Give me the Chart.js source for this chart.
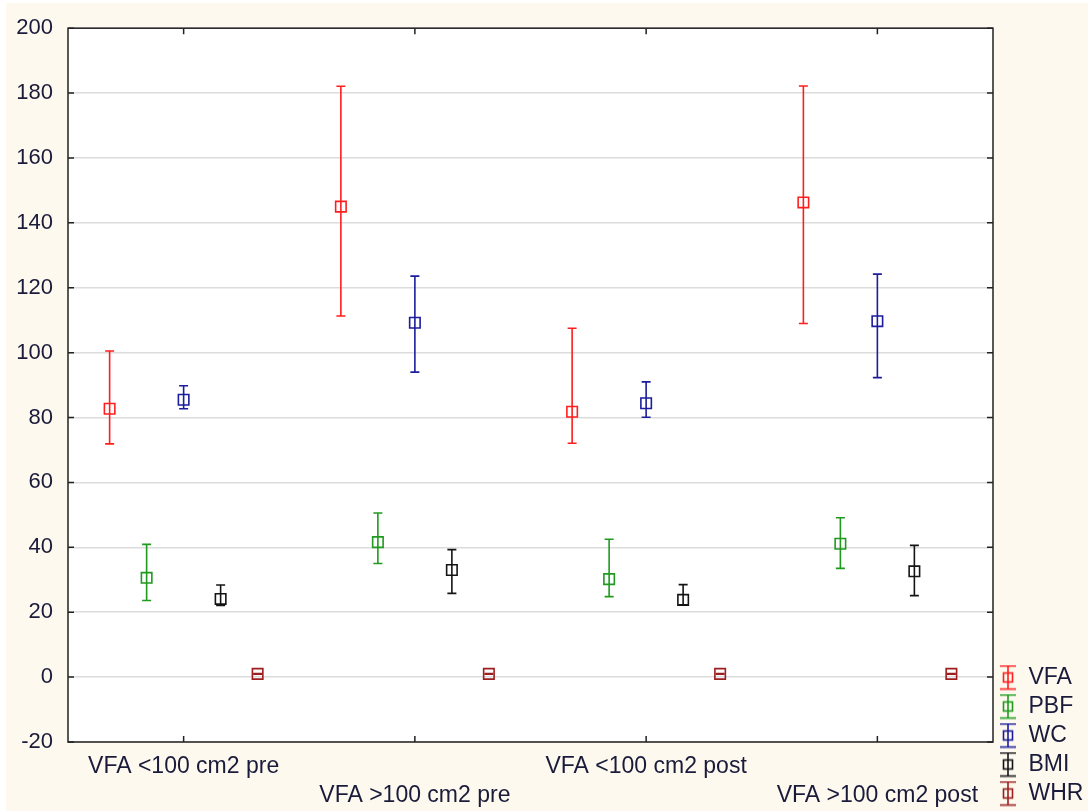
<!DOCTYPE html>
<html>
<head>
<meta charset="utf-8">
<script src="https://cdn.jsdelivr.net/npm/chart.js@4.4.1/dist/chart.umd.min.js"></script>
<style>
    body { margin: 0; background: #ffffff; }
    #wrap { width: 1088px; height: 811px; }
</style>
</head>
<body>
<div id="wrap"><canvas id="grafico"></canvas></div>
<script>
const categorias = ['VFA <100 cm2 pre', 'VFA >100 cm2 pre', 'VFA <100 cm2 post', 'VFA >100 cm2 post'];
const yTicks = [-20, 0, 20, 40, 60, 80, 100, 120, 140, 160, 180, 200];

const vfaMedia = [82.7, 145.0, 81.8, 146.3];
const vfaMin   = [71.9, 111.3, 72.1, 109.0];
const vfaMax   = [100.5, 182.1, 107.5, 182.2];

const pbfMedia = [30.6, 41.6, 30.2, 41.1];
const pbfMin   = [23.6, 35.0, 24.8, 33.5];
const pbfMax   = [40.9, 50.6, 42.5, 49.1];

const wcMedia = [85.5, 109.2, 84.4, 109.7];
const wcMin   = [82.7, 94.0, 80.1, 92.3];
const wcMax   = [89.8, 123.6, 91.0, 124.2];

const bmiMedia = [24.1, 33.0, 23.8, 32.6];
const bmiMin   = [22.1, 25.8, 22.3, 25.1];
const bmiMax   = [28.4, 39.3, 28.5, 40.6];

const whrMedia = [1.0, 1.0, 1.0, 1.0];
const whrMin   = [0.9, 0.9, 0.9, 0.9];
const whrMax   = [1.1, 1.1, 1.1, 1.1];

const series = [
    { nome: 'VFA', cor: '#ff1e1e', media: vfaMedia, min: vfaMin, max: vfaMax, desloc: -0.32 },
    { nome: 'PBF', cor: '#1f9a1f', media: pbfMedia, min: pbfMin, max: pbfMax, desloc: -0.16 },
    { nome: 'WC',  cor: '#1c1c9c', media: wcMedia,  min: wcMin,  max: wcMax,  desloc: 0 },
    { nome: 'BMI', cor: '#141414', media: bmiMedia, min: bmiMin, max: bmiMax, desloc: 0.16 },
    { nome: 'WHR', cor: '#9c1e1e', media: whrMedia, min: whrMin, max: whrMax, desloc: 0.32 }
];

const fonte = "'Liberation Sans', Arial, sans-serif";
const corTexto = '#1a1a3a';

function iconeLegenda(cor) {
    const c = document.createElement('canvas');
    c.width = 18;
    c.height = 26;
    const ctx = c.getContext('2d');
    ctx.strokeStyle = cor;
    ctx.lineWidth = 1.6;
    ctx.beginPath();
    ctx.moveTo(9, 1); ctx.lineTo(9, 25);
    ctx.moveTo(1, 1.5); ctx.lineTo(17, 1.5);
    ctx.moveTo(1, 24.5); ctx.lineTo(17, 24.5);
    ctx.stroke();
    ctx.strokeRect(4.5, 8.5, 9, 9);
    return c;
}

const datasets = series.map(s => ({
    label: s.nome,
    data: s.media.map((v, i) => ({ x: i + 1 + s.desloc, y: v, lo: s.min[i], hi: s.max[i] })),
    borderColor: s.cor,
    backgroundColor: 'rgba(0,0,0,0)',
    pointStyle: 'rect',
    pointRadius: 7.4,
    pointBorderWidth: 1.6,
    showLine: false,
    icone: iconeLegenda(s.cor)
}));

// fundo creme + area branca
const pluginFundo = {
    id: 'fundo',
    beforeDraw(chart) {
        const { ctx, chartArea: a } = chart;
        ctx.save();
        ctx.fillStyle = '#fdf9ee';
        ctx.fillRect(6, 3, chart.width - 6, chart.height - 3);
        ctx.fillStyle = '#ffffff';
        ctx.fillRect(a.left, a.top, a.right - a.left, a.bottom - a.top);
        ctx.restore();
    }
};

// barras de erro
const pluginErro = {
    id: 'barrasErro',
    afterDatasetsDraw(chart) {
        const { ctx } = chart;
        const y = chart.scales.y;
        ctx.save();
        ctx.lineWidth = 1.6;
        chart.data.datasets.forEach((ds, di) => {
            const meta = chart.getDatasetMeta(di);
            ctx.strokeStyle = ds.borderColor;
            meta.data.forEach((pt, i) => {
                const yLo = y.getPixelForValue(ds.data[i].lo);
                const yHi = y.getPixelForValue(ds.data[i].hi);
                ctx.beginPath();
                ctx.moveTo(pt.x, yLo); ctx.lineTo(pt.x, yHi);
                ctx.moveTo(pt.x - 4.5, yLo); ctx.lineTo(pt.x + 4.5, yLo);
                ctx.moveTo(pt.x - 4.5, yHi); ctx.lineTo(pt.x + 4.5, yHi);
                ctx.stroke();
            });
        });
        ctx.restore();
    }
};

// moldura e marcas internas
const pluginMoldura = {
    id: 'moldura',
    afterDraw(chart) {
        const { ctx, chartArea: a, scales } = chart;
        ctx.save();
        ctx.strokeStyle = '#222222';
        ctx.lineWidth = 1.5;
        ctx.strokeRect(a.left, a.top, a.right - a.left, a.bottom - a.top);
        ctx.beginPath();
        scales.y.ticks.forEach(t => {
            const py = scales.y.getPixelForValue(t.value);
            ctx.moveTo(a.left, py); ctx.lineTo(a.left + 6, py);
            ctx.moveTo(a.right, py); ctx.lineTo(a.right - 6, py);
        });
        scales.x.ticks.forEach(t => {
            const px = scales.x.getPixelForValue(t.value);
            ctx.moveTo(px, a.bottom); ctx.lineTo(px, a.bottom - 6);
            ctx.moveTo(px, a.top); ctx.lineTo(px, a.top + 6);
        });
        ctx.stroke();
        ctx.restore();
    }
};

new Chart(document.getElementById('grafico'), {
    type: 'scatter',
    data: { datasets: datasets },
    plugins: [pluginFundo, pluginErro, pluginMoldura],
    options: {
        responsive: true,
        maintainAspectRatio: false,
        animation: false,
        events: [],
        layout: { padding: { left: 8, top: 28, right: 0, bottom: 0 } },
        plugins: {
            tooltip: { enabled: false },
            legend: {
                position: 'right',
                align: 'end',
                maxWidth: 95,
                labels: {
                    usePointStyle: true,
                    boxWidth: 18,
                    padding: 6,
                    color: corTexto,
                    font: { family: fonte, size: 23 },
                    generateLabels(chart) {
                        return chart.data.datasets.map((ds, i) => ({
                            text: ds.label,
                            pointStyle: ds.icone,
                            fillStyle: 'rgba(0,0,0,0)',
                            strokeStyle: ds.borderColor,
                            lineWidth: 0,
                            fontColor: corTexto,
                            hidden: false,
                            datasetIndex: i
                        }));
                    }
                }
            }
        },
        scales: {
            x: {
                type: 'linear',
                min: 0.5,
                max: 4.5,
                afterBuildTicks(scale) {
                    scale.ticks = categorias.map((c, i) => ({ value: i + 1 }));
                },
                afterFit(scale) { scale.height = 69; },
                grid: { display: false, drawTicks: false },
                border: { display: false },
                ticks: {
                    padding: 10,
                    maxRotation: 0,
                    autoSkip: false,
                    color: corTexto,
                    font: { family: fonte, size: 23, lineHeight: 1.26 },
                    callback: function (valor) {
                        const i = Math.round(valor) - 1;
                        return i % 2 ? ['', categorias[i]] : categorias[i];
                    }
                }
            },
            y: {
                min: yTicks[0],
                max: yTicks[yTicks.length - 1],
                afterBuildTicks(scale) {
                    scale.ticks = yTicks.map(v => ({ value: v }));
                },
                afterFit(scale) { scale.width = 60; },
                grid: { color: '#dcdcdc', lineWidth: 1.5, drawTicks: false },
                border: { display: false },
                ticks: {
                    padding: 15,
                    color: corTexto,
                    font: { family: fonte, size: 22 }
                }
            }
        }
    }
});
</script>
</body>
</html>
